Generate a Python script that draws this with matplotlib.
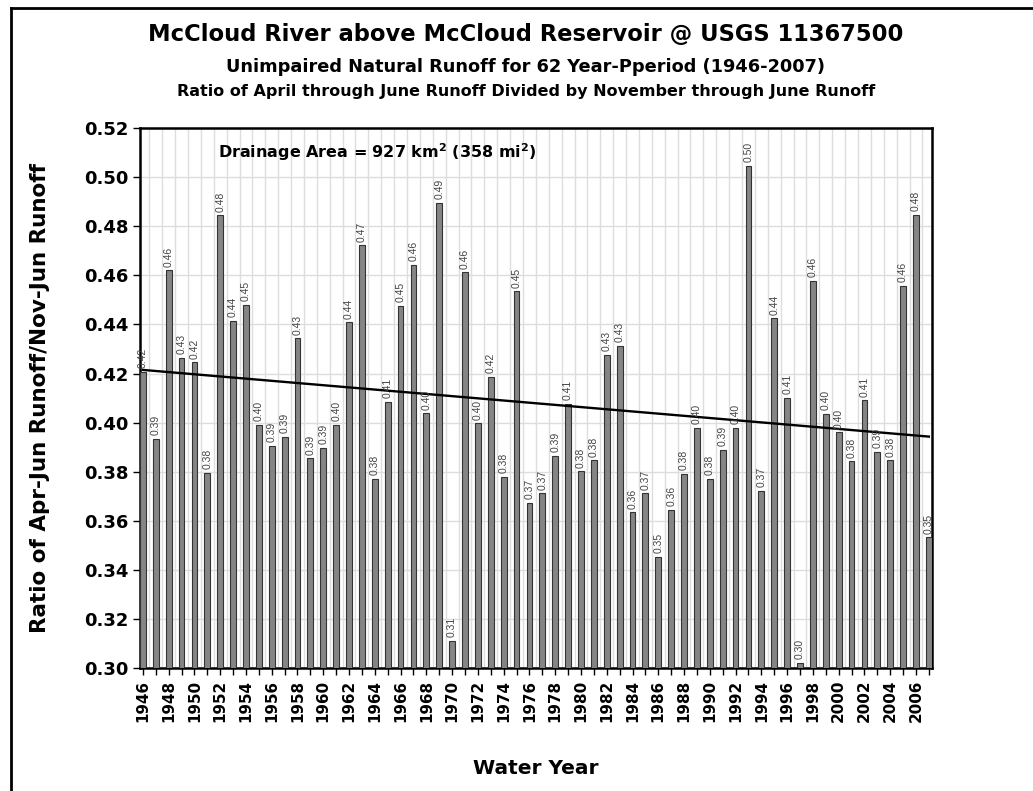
import numpy as np
import matplotlib
matplotlib.use("Agg")
import matplotlib.pyplot as plt
from matplotlib.lines import Line2D

plt.rcParams["font.family"] = ["DejaVu Sans"]

years = list(range(1946, 2008))
ratios = [
    0.4206, 0.3935, 0.4621, 0.4265, 0.4245, 0.3795, 0.4845, 0.4416, 0.4480, 0.3991,
    0.3905, 0.3941, 0.4343, 0.3855, 0.3896, 0.3991, 0.4409, 0.4722, 0.3770, 0.4085,
    0.4477, 0.4644, 0.4038, 0.4895, 0.3110, 0.4613, 0.3997, 0.4187, 0.3778, 0.4535,
    0.3673, 0.3712, 0.3864, 0.4076, 0.3802, 0.3846, 0.4276, 0.4312, 0.3634, 0.3712,
    0.3454, 0.3645, 0.3791, 0.3979, 0.3772, 0.3889, 0.3979, 0.5045, 0.3723, 0.4425,
    0.4101, 0.3020, 0.4577, 0.4037, 0.3960, 0.3842, 0.4091, 0.3880, 0.3846, 0.4558,
    0.4848, 0.3532,
]

x = np.arange(len(years))
w = 0.45

fig = plt.figure(figsize=(10.33, 7.91), dpi=100)
ax = fig.add_axes([0.1355, 0.1555, 0.902 - 0.1355, 0.838 - 0.1555])

ax.bar(x, ratios, width=w, color="#858585", edgecolor="#333333", linewidth=0.8, zorder=3)

# linear trend line (Excel style)
slope, intercept = np.polyfit(x, ratios, 1)
ax.plot(x, slope * x + intercept, color="black", linewidth=1.7, zorder=4)

for xi, v in zip(x, ratios):
    ax.text(xi, v + 0.0015, f"{v:.2f}", rotation=90, ha="center", va="bottom",
            fontsize=7.5, color="#444444", family="Liberation Sans", zorder=5)

yt = np.arange(0.30, 0.5201, 0.02)
ax.set_ylim(0.30, 0.52)
ax.set_xlim(-w / 2, len(years) - 1 + w / 2)
ax.set_yticks(yt)
ax.set_yticklabels([f"{t:.2f}" for t in yt], fontsize=13, fontweight="bold")
ax.set_xticks(x[::2])
ax.set_xticklabels([str(y) for y in years[::2]], rotation=90, fontsize=10.9, fontweight="bold")
ax.set_xticks(x, minor=True)
ax.tick_params(axis="both", direction="out", length=5, width=1)
ax.tick_params(axis="x", which="minor", length=5, width=1)

ax.grid(axis="y", color="#dddddd", linewidth=1, zorder=0)
for xi in x[:-1]:
    ax.axvline(xi + 0.5, color="#dddddd", linewidth=1, zorder=0)
for s in ax.spines.values():
    s.set_linewidth(1.8)

ax.set_ylabel("Ratio of Apr-Jun Runoff/Nov-Jun Runoff", fontsize=15.5, fontweight="bold")
ax.yaxis.set_label_coords(-0.113, 0.5)
ax.set_xlabel("Water Year", fontsize=14.5, fontweight="bold")
ax.xaxis.set_label_coords(0.5, -0.168)

ax.text(0.098, 0.955, "Drainage Area = 927 km$^\\mathbf{2}$ (358 mi$^\\mathbf{2}$)",
        transform=ax.transAxes, fontsize=11.5, fontweight="bold", va="center", ha="left")

fig.text(0.509, 0.956, "McCloud River above McCloud Reservoir @ USGS 11367500",
         ha="center", va="center", fontsize=16.3, fontweight="bold")
fig.text(0.509, 0.915, "Unimpaired Natural Runoff for 62 Year-Pperiod (1946-2007)",
         ha="center", va="center", fontsize=12.8, fontweight="bold")
fig.text(0.509, 0.884, "Ratio of April through June Runoff Divided by November through June Runoff",
         ha="center", va="center", fontsize=11.5, fontweight="bold")

# outer frame (left and top visible)
fig.add_artist(Line2D([0.011, 0.011], [0.0, 0.99], color="black", linewidth=2, transform=fig.transFigure))
fig.add_artist(Line2D([0.011, 1.0], [0.99, 0.99], color="black", linewidth=2, transform=fig.transFigure))

fig.savefig("out.png", dpi=100)
